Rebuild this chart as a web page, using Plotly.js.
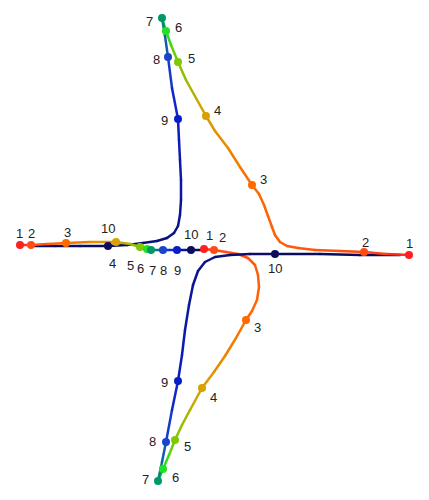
<!DOCTYPE html>
<html>
<head>
<meta charset="utf-8">
<script src="https://cdn.plot.ly/plotly-3.0.1.min.js"></script>
<style>
  html, body { margin: 0; padding: 0; background: #fff; }
  #chart { width: 429px; height: 500px; }
  .scatterlayer .js-line { stroke-linecap: round; }
</style>
</head>
<body>
<div id="chart"></div>
<script>
// ---- data ----
const labels = [1, 2, 3, 4, 5, 6, 7, 8, 9, 10];

// labelled points of the three curves
const A_x = [19.5, 15.0, 3.8, -0.8, -3.6, -4.8, -5.2, -4.6, -3.6, -10.6];
const A_y = [-0.5, -0.2, 6.5, 13.4, 18.8, 21.9, 23.2, 19.3, 13.1, 0.4];
const B_x = [-19.4, -18.3, -14.8, -9.8, -7.4, -6.7, -6.3, -5.1, -3.7, -2.3];
const B_y = [0.5, 0.5, 0.7, 0.8, 0.3, 0.1, 0.0, 0.0, 0.0, 0.0];
const C_x = [-1.0, 0.0, 3.2, -1.2, -3.9, -5.1, -5.6, -4.8, -3.6, 6.1];
const C_y = [0.1, 0.0, -7.0, -13.8, -19.0, -21.9, -23.1, -19.2, -13.1, -0.4];

// traced paths of the curves (through the labelled points)
const A_pathX = [19.5, 17.2, 15.0, 12.6, 10.1, 8.4, 7.3, 6.6, 6.1, 5.8, 5.4, 5.0, 4.5, 3.8, 2.6, 1.4, 0.1, -0.8, -1.8, -2.8, -3.6, -4.3, -4.8, -5.2, -4.9, -4.6, -4.2, -3.6, -3.5, -3.4, -3.3, -3.3, -3.4, -3.6, -4.0, -4.7, -5.7, -7.1, -8.7, -10.6, -13.4, -15.9, -17.9];
const A_pathY = [-0.5, -0.4, -0.2, -0.1, 0.0, 0.2, 0.4, 0.8, 1.5, 2.3, 3.4, 4.5, 5.6, 6.5, 8.3, 10.2, 11.9, 13.4, 15.2, 17.0, 18.8, 20.5, 21.9, 23.2, 21.4, 19.3, 16.2, 13.1, 11.0, 9.0, 7.0, 5.0, 3.5, 2.4, 1.7, 1.2, 0.9, 0.7, 0.5, 0.4, 0.4, 0.4, 0.4];
const B_pathX = [-19.4, -18.3, -16.6, -14.8, -12.4, -9.8, -8.4, -7.4, -6.7, -6.3, -5.1, -3.7, -2.3, -1.0];
const B_pathY = [0.5, 0.5, 0.6, 0.7, 0.8, 0.8, 0.6, 0.3, 0.1, 0.0, 0.0, 0.0, 0.0, 0.0];
const C_pathX = [-1.0, 0.0, 1.2, 2.4, 3.4, 4.1, 4.4, 4.5, 4.3, 3.8, 3.2, 2.2, 1.1, 0.0, -1.2, -2.4, -3.2, -3.9, -4.5, -5.1, -5.6, -5.2, -4.8, -4.2, -3.6, -3.2, -2.9, -2.5, -2.1, -1.6, -0.9, 0.1, 1.6, 3.6, 6.1, 10.6, 14.6, 18.6];
const C_pathY = [0.1, 0.0, -0.2, -0.4, -0.8, -1.5, -2.5, -3.7, -5.0, -6.1, -7.0, -8.8, -10.6, -12.2, -13.8, -16.0, -17.5, -19.0, -20.5, -21.9, -23.1, -21.2, -19.2, -16.0, -13.1, -10.5, -8.0, -5.5, -3.5, -2.1, -1.2, -0.7, -0.5, -0.4, -0.4, -0.4, -0.5, -0.5];

// ---- style ----
const palette = ['#ff2020', '#ff4c14', '#ff6a00', '#d8a000', '#80c800', '#22e022', '#009966', '#1a44cc', '#0a1ec8', '#0c0c5c'];
const labelOffsetsA = [[0,-12],[1,-10],[11,-6],[11,-6],[13,-4],[12,-4],[-13,3],[-12,2],[-14,1],[0,-18]];
const labelOffsetsB = [[-1,-12],[0,-12],[1,-11],[-4,21],[-10,18],[-7,19],[1,20],[0,20],[0,20],[0,-16]];
const labelOffsetsC = [[5,-14],[8,-13],[11,7],[11,9],[12,6],[12,8],[-13,-2],[-14,-1],[-14,1],[0,14]];

function hexToRgb(h) { return [parseInt(h.substr(1,2),16), parseInt(h.substr(3,2),16), parseInt(h.substr(5,2),16)]; }
const palRgb = palette.map(hexToRgb);
function colorAt(t) {
  if (t <= 1) return palette[0];
  if (t >= 10) return palette[9];
  const k = Math.floor(t) - 1, f = t - Math.floor(t);
  const a = palRgb[k], b = palRgb[k + 1];
  const c = a.map((v, i) => Math.round(v + (b[i] - v) * f));
  return 'rgb(' + c.join(',') + ')';
}

function segmentTraces(px, py, ptx, pty) {
  // anchor indices of labelled points on the path
  const anchors = ptx.map((x, k) => {
    for (let i = 0; i < px.length; i++) if (px[i] === x && py[i] === pty[k]) return i;
    return -1;
  });
  const n = px.length;
  const cum = [0];
  for (let i = 1; i < n; i++) cum.push(cum[i-1] + Math.hypot(px[i]-px[i-1], py[i]-py[i-1]));
  const tv = new Array(n);
  for (let i = 0; i < n; i++) {
    if (i <= anchors[0]) { tv[i] = 1; continue; }
    if (i >= anchors[anchors.length-1]) { tv[i] = labels[labels.length-1]; continue; }
    for (let k = 0; k < anchors.length - 1; k++) {
      if (i >= anchors[k] && i <= anchors[k+1]) {
        const L = cum[anchors[k+1]] - cum[anchors[k]];
        tv[i] = labels[k] + (L > 0 ? (cum[i] - cum[anchors[k]]) / L : 0);
        break;
      }
    }
  }
  const traces = [];
  for (let i = 0; i < n - 1; i++) {
    traces.push({
      x: [px[i], px[i+1]], y: [py[i], py[i+1]],
      mode: 'lines', type: 'scatter',
      line: { color: colorAt((tv[i] + tv[i+1]) / 2), width: 2.5 },
      hoverinfo: 'skip', showlegend: false
    });
  }
  return traces;
}

function markerTrace(x, y) {
  return {
    x: x, y: y, mode: 'markers', type: 'scatter',
    marker: { color: palette, size: 8, line: { width: 0 } },
    hoverinfo: 'skip', showlegend: false
  };
}

function labelAnnotations(x, y, offs) {
  return labels.map((lab, k) => ({
    x: x[k], y: y[k], text: String(lab), showarrow: false,
    xshift: offs[k][0], yshift: -offs[k][1],
    font: { family: 'Liberation Sans, Arial, sans-serif', size: 13, color: '#222' }
  }));
}

const data = []
  .concat(segmentTraces(C_pathX, C_pathY, C_x, C_y))
  .concat(segmentTraces(A_pathX, A_pathY, A_x, A_y))
  .concat(segmentTraces(B_pathX, B_pathY, B_x, B_y))
  .concat([markerTrace(C_x, C_y), markerTrace(A_x, A_y), markerTrace(B_x, B_y)]);

const layout = {
  width: 429, height: 500,
  margin: { l: 0, r: 0, t: 0, b: 0 },
  paper_bgcolor: '#ffffff', plot_bgcolor: '#ffffff',
  xaxis: { range: [-21.4, 21.5], visible: false, fixedrange: true },
  yaxis: { range: [-25, 25], visible: false, fixedrange: true },
  annotations: []
    .concat(labelAnnotations(A_x, A_y, labelOffsetsA))
    .concat(labelAnnotations(B_x, B_y, labelOffsetsB))
    .concat(labelAnnotations(C_x, C_y, labelOffsetsC)),
  showlegend: false
};

Plotly.newPlot('chart', data, layout, { displayModeBar: false, staticPlot: true });
</script>
</body>
</html>
